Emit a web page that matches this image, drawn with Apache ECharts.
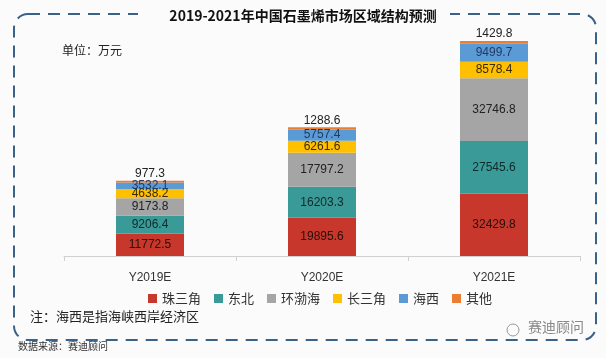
<!DOCTYPE html>
<html><head><meta charset="utf-8">
<script src="https://cdn.jsdelivr.net/npm/echarts@6/dist/echarts.min.js"></script>
<style>html,body{margin:0;padding:0;background:#fbfbfb}#c{width:606px;height:358px}</style>
</head><body><div id="c"></div>
<script>
const categories = ['Y2019E', 'Y2020E', 'Y2021E'];
const seriesNames = ['珠三角', '东北', '环渤海', '长三角', '海西', '其他'];
const zhusanjiao = [11772.5, 19895.6, 32429.8];
const dongbei = [9206.4, 16203.3, 27545.6];
const huanbohai = [9173.8, 17797.2, 32746.8];
const changsanjiao = [4638.2, 6261.6, 8578.4];
const haixi = [3532.1, 5757.4, 9499.7];
const qita = [977.3, 1288.6, 1429.8];
const values = [zhusanjiao, dongbei, huanbohai, changsanjiao, haixi, qita];
const colors = ['#c8372b', '#3a9a97', '#a5a5a5', '#ffc000', '#5b9bd5', '#ed7d31'];
const labelColors = ['#2a0d0a', '#0f2a2a', '#222', '#3a2a00', '#1f3b66', '#222'];

const chart = echarts.init(document.getElementById('c'), null, {renderer: 'canvas'});
const series = seriesNames.map((n, i) => ({
  name: n, type: 'bar', stack: 'total', barWidth: 68,
  data: values[i],
  itemStyle: {color: colors[i]},
  label: {
    show: true,
    position: i === 5 ? 'top' : 'inside',
    distance: 1,
    color: labelColors[i],
    fontSize: 12,
    fontFamily: 'Liberation Sans, Arial, sans-serif'
  }
}));
chart.setOption({
  animation: false,
  backgroundColor: '#fbfbfb',
  grid: {left: 64, right: 26, top: 26, bottom: 102},
  xAxis: {
    type: 'category', data: categories,
    axisLine: {lineStyle: {color: '#d0d0d0'}},
    axisTick: {show: true, length: 5, lineStyle: {color: '#d0d0d0'}},
    axisLabel: {color: '#333', fontSize: 12, margin: 16, fontFamily: 'Liberation Sans, Arial, sans-serif'}
  },
  yAxis: {type: 'value', min: 0, max: 120000, show: false, splitLine: {show: false}},
  legend: {
    data: seriesNames, left: 143, top: 287, icon: 'rect',
    itemWidth: 9, itemHeight: 9, itemGap: 13,
    textStyle: {fontSize: 13, color: '#333', fontFamily: 'Noto Sans CJK SC'}
  },
  graphic: [
    {type: 'rect', z: -1, silent: true,
     shape: {x: 14, y: 14, width: 582, height: 326, r: 14},
     style: {fill: 'none', stroke: '#3a6187', lineWidth: 2, lineDash: [12, 8]}},
    {type: 'rect', z: 0, silent: true,
     shape: {x: 138, y: 4, width: 312, height: 22},
     style: {fill: '#fbfbfb'}},
    {type: 'text', left: 'center', top: 9,
     style: {text: '2019-2021年中国石墨烯市场区域结构预测', font: 'bold 14px "Noto Sans CJK SC"', fill: '#111'}},
    {type: 'text', left: 62, top: 44,
     style: {text: '单位：万元', font: '12px "Noto Sans CJK SC"', fill: '#222'}},
    {type: 'text', left: 30, top: 310,
     style: {text: '注：海西是指海峡西岸经济区', font: '13px "Noto Sans CJK SC"', fill: '#222'}},
    {type: 'text', left: 18, top: 341,
     style: {text: '数据来源：赛迪顾问', font: '10px "Noto Sans CJK SC"', fill: '#333'}},
    {type: 'text', left: 528, top: 320,
     style: {text: '赛迪顾问', font: '14px "Noto Sans CJK SC"', fill: '#888'}},
    {type: 'circle', shape: {cx: 513, cy: 330, r: 6},
     style: {fill: 'none', stroke: '#999', lineWidth: 1}}
  ],
  series: series
});
</script></body></html>
